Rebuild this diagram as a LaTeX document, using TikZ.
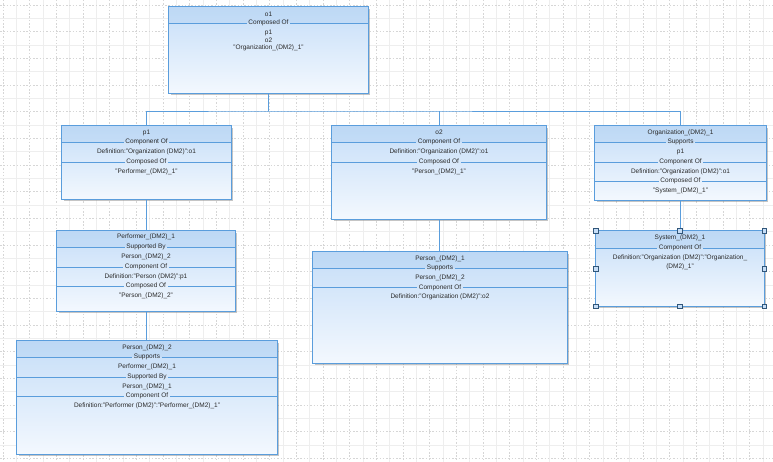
\documentclass[tikz,border=0pt]{standalone}
\usepackage{fontspec}
\setmainfont{Liberation Sans}
\usetikzlibrary{fit,shadows}
\definecolor{bordc}{HTML}{5A9DDC}
\definecolor{topc}{HTML}{C6DEF8}
\definecolor{botc}{HTML}{F3F8FE}
\definecolor{hdrc}{HTML}{A5CAF0}
\definecolor{txtc}{HTML}{2A2A2A}
\definecolor{gridd}{HTML}{D6D6D6}
\definecolor{grids}{HTML}{EEEEEE}
\tikzset{
  umlnode/.style={inner sep=0pt, top color=topc, bottom color=botc,
    drop shadow={shadow xshift=1.6pt, shadow yshift=-1.6pt, fill=black!45, opacity=.5}},
  hdrband/.style={fill=hdrc, opacity=.25},
  boxborder/.style={draw=bordc, line width=0.9pt},
  txt/.style={inner sep=0pt, text=txtc, font=\fontsize{6.5}{7.5}\selectfont},
  divlbl/.style={inner xsep=1.5pt, inner ysep=0pt, text=txtc, font=\fontsize{6.5}{7.5}\selectfont},
  divl/.style={draw=bordc, line width=0.8pt},
  conn/.style={draw=bordc, line width=0.9pt},
  handlebox/.style={draw=bordc!55!black, fill=topc, line width=0.6pt},
}
\newcommand\umlbox[6]{%
  \node[umlnode, fit={(#2,#3) (#4,#5)}] (#1) {};
  \fill[hdrband] (#2,#3) rectangle (#4,#6);
  \draw[boxborder] (#1.north west) rectangle (#1.south east);
}
% name, L, R, y, text
\newcommand\divr[5]{%
  \node[divlbl] (#1) at ({(#2+#3)/2},#4) {#5};
  \draw[divl] (#2,#4) -- (#1.west);
  \draw[divl] (#1.east) -- (#3,#4);
}
\newcommand\rowt[5]{%
  \node[txt] (#1) at ({(#2+#3)/2},#4) {#5};
}
\begin{document}
\begin{tikzpicture}[x=1pt,y=-1pt]
\useasboundingbox (0,0) rectangle (773,462);
\fill[white] (0,0) rectangle (773,462);
% grid
\foreach \i in {0,...,57} {
  \pgfmathsetmacro\gx{3+13.333*\i}
  \ifodd\i
    \draw[grids, line width=0.6pt] (\gx,0) -- (\gx,462);
  \else
    \draw[gridd, line width=0.6pt, dash pattern=on 1.5pt off 1.8pt] (\gx,0) -- (\gx,462);
  \fi
}
\foreach \i in {0,...,34} {
  \pgfmathsetmacro\gy{5+13.333*\i}
  \ifodd\i
    \draw[grids, line width=0.6pt] (0,\gy) -- (773,\gy);
  \else
    \draw[gridd, line width=0.6pt, dash pattern=on 1.5pt off 1.8pt] (0,\gy) -- (773,\gy);
  \fi
}

% o1
\umlbox{o1}{169}{7}{368}{93}{23}
\rowt{o1t}{169}{368}{14}{o1}
\divr{o1d1}{169}{368}{23}{Composed Of}
\rowt{o1r1}{169}{368}{32.5}{p1}
\rowt{o1r2}{169}{368}{40.3}{o2}
\rowt{o1r3}{169}{368}{48}{"Organization\_(DM2)\_1"}

% p1
\umlbox{p1}{62}{126}{231}{199}{142}
\rowt{p1t}{62}{231}{132.5}{p1}
\divr{p1d1}{62}{231}{142}{Component Of}
\rowt{p1r1}{62}{231}{152}{Definition:"Organization (DM2)":o1}
\divr{p1d2}{62}{231}{162}{Composed Of}
\rowt{p1r2}{62}{231}{171.5}{"Performer\_(DM2)\_1"}

% o2
\umlbox{o2}{332}{126}{546}{219}{142}
\rowt{o2t}{332}{546}{132.5}{o2}
\divr{o2d1}{332}{546}{142}{Component Of}
\rowt{o2r1}{332}{546}{152}{Definition:"Organization (DM2)":o1}
\divr{o2d2}{332}{546}{162}{Composed Of}
\rowt{o2r2}{332}{546}{171.5}{"Person\_(DM2)\_1"}

% Organization
\umlbox{org}{595}{126}{766}{200}{142}
\rowt{orgt}{595}{766}{133}{Organization\_(DM2)\_1}
\divr{orgd1}{595}{766}{142}{Supports}
\rowt{orgr1}{595}{766}{152}{p1}
\divr{orgd2}{595}{766}{162}{Component Of}
\rowt{orgr2}{595}{766}{171.5}{Definition:"Organization (DM2)":o1}
\divr{orgd3}{595}{766}{181}{Composed Of}
\rowt{orgr3}{595}{766}{191}{"System\_(DM2)\_1"}

% Performer
\umlbox{perf}{57}{231}{235}{311}{247}
\rowt{perft}{57}{235}{237}{Performer\_(DM2)\_1}
\divr{perfd1}{57}{235}{247}{Supported By}
\rowt{perfr1}{57}{235}{257}{Person\_(DM2)\_2}
\divr{perfd2}{57}{235}{267}{Component Of}
\rowt{perfr2}{57}{235}{277}{Definition:"Person (DM2)":p1}
\divr{perfd3}{57}{235}{286}{Composed Of}
\rowt{perfr3}{57}{235}{296}{"Person\_(DM2)\_2"}

% Person 1
\umlbox{pa}{313}{252}{567}{363}{268}
\rowt{pat}{313}{567}{258.5}{Person\_(DM2)\_1}
\divr{pad1}{313}{567}{268}{Supports}
\rowt{par1}{313}{567}{278}{Person\_(DM2)\_2}
\divr{pad2}{313}{567}{287.5}{Component Of}
\rowt{par2}{313}{567}{297}{Definition:"Organization (DM2)":o2}

% Person 2
\umlbox{pb}{17}{341}{277}{454}{357}
\rowt{pbt}{17}{277}{347.5}{Person\_(DM2)\_2}
\divr{pbd1}{17}{277}{357}{Supports}
\rowt{pbr1}{17}{277}{367}{Performer\_(DM2)\_1}
\divr{pbd2}{17}{277}{377}{Supported By}
\rowt{pbr2}{17}{277}{386.5}{Person\_(DM2)\_1}
\divr{pbd3}{17}{277}{396}{Component Of}
\rowt{pbr3}{17}{277}{406}{Definition:"Performer (DM2)":"Performer\_(DM2)\_1"}

% System
\umlbox{sys}{596}{231}{764}{306}{248}
\rowt{syst}{596}{764}{238}{System\_(DM2)\_1}
\divr{sysd1}{596}{764}{248}{Component Of}
\rowt{sysr1}{596}{764}{258}{Definition:"Organization (DM2)":"Organization\_}
\rowt{sysr2}{596}{764}{267}{(DM2)\_1"}

% connectors
\coordinate (bus) at (268.5,111);
\draw[conn] (o1.south) -- (bus);
\draw[conn] (p1.north) |- (bus) -| (org.north);
\draw[conn] (o2.north) -- (o2.north |- bus);
\draw[conn] (p1.south) -- (perf.north -| p1.south);
\draw[conn] (perf.south) -- (pb.north -| perf.south);
\draw[conn] (o2.south) -- (pa.north -| o2.south);
\draw[conn] (org.south) -- (sys.north -| org.south);

% selection handles
\foreach \p in {north west, north, north east, west, east, south west, south, south east} {
  \draw[handlebox] ([shift={(-2.3pt,-2.3pt)}]sys.\p) rectangle ([shift={(2.3pt,2.3pt)}]sys.\p);
}
\end{tikzpicture}
\end{document}
